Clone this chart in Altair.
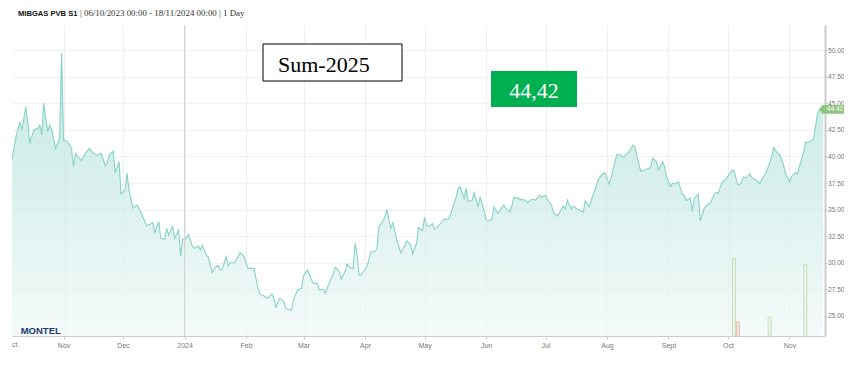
import altair as alt
import pandas as pd

# ---- data ----
dates = [
    "2023-10-06", "2023-10-08", "2023-10-10", "2023-10-11", "2023-10-13", "2023-10-14", "2023-10-15",
    "2023-10-17", "2023-10-19", "2023-10-20", "2023-10-21", "2023-10-22", "2023-10-24", "2023-10-25",
    "2023-10-26", "2023-10-28", "2023-10-30", "2023-10-31",
    "2023-11-01", "2023-11-03", "2023-11-05", "2023-11-06", "2023-11-07", "2023-11-09", "2023-11-10",
    "2023-11-12", "2023-11-14", "2023-11-16", "2023-11-18", "2023-11-20", "2023-11-22", "2023-11-23",
    "2023-11-24", "2023-11-26", "2023-11-27", "2023-11-29", "2023-11-30",
    "2023-12-02", "2023-12-03", "2023-12-04", "2023-12-06", "2023-12-08", "2023-12-09", "2023-12-12",
    "2023-12-13", "2023-12-16", "2023-12-17", "2023-12-19", "2023-12-20", "2023-12-22", "2023-12-23",
    "2023-12-24", "2023-12-26", "2023-12-27", "2023-12-29", "2023-12-30", "2023-12-31",
    "2024-01-02", "2024-01-03", "2024-01-05", "2024-01-06", "2024-01-08", "2024-01-09", "2024-01-10",
    "2024-01-12", "2024-01-13", "2024-01-15", "2024-01-16", "2024-01-18", "2024-01-19", "2024-01-20",
    "2024-01-22", "2024-01-23", "2024-01-24", "2024-01-26", "2024-01-28", "2024-01-29", "2024-01-31",
    "2024-02-02", "2024-02-05", "2024-02-07", "2024-02-08", "2024-02-10", "2024-02-12", "2024-02-14",
    "2024-02-15", "2024-02-16", "2024-02-18", "2024-02-20", "2024-02-21", "2024-02-22", "2024-02-24",
    "2024-02-25", "2024-02-27", "2024-02-29",
    "2024-03-01", "2024-03-03", "2024-03-05", "2024-03-06", "2024-03-08", "2024-03-09", "2024-03-11",
    "2024-03-12", "2024-03-14", "2024-03-16", "2024-03-17", "2024-03-19", "2024-03-20", "2024-03-22",
    "2024-03-23", "2024-03-25", "2024-03-26", "2024-03-27", "2024-03-28", "2024-03-29", "2024-03-30",
    "2024-04-02", "2024-04-04", "2024-04-06", "2024-04-07", "2024-04-08", "2024-04-10", "2024-04-11",
    "2024-04-12", "2024-04-14", "2024-04-15", "2024-04-17", "2024-04-19", "2024-04-21", "2024-04-22",
    "2024-04-24", "2024-04-25", "2024-04-27", "2024-04-28", "2024-04-30",
    "2024-05-01", "2024-05-02", "2024-05-04", "2024-05-05", "2024-05-06", "2024-05-08", "2024-05-11",
    "2024-05-13", "2024-05-14", "2024-05-17", "2024-05-18", "2024-05-19", "2024-05-21", "2024-05-22",
    "2024-05-23", "2024-05-25", "2024-05-26", "2024-05-28", "2024-05-29", "2024-05-31",
    "2024-06-01", "2024-06-02", "2024-06-04", "2024-06-05", "2024-06-07", "2024-06-09", "2024-06-10",
    "2024-06-11", "2024-06-13", "2024-06-14", "2024-06-15", "2024-06-17", "2024-06-19", "2024-06-20",
    "2024-06-22", "2024-06-24", "2024-06-26", "2024-06-28", "2024-06-29",
    "2024-07-01", "2024-07-02", "2024-07-04", "2024-07-05", "2024-07-07", "2024-07-08", "2024-07-10",
    "2024-07-11", "2024-07-12", "2024-07-14", "2024-07-15", "2024-07-17", "2024-07-18", "2024-07-20",
    "2024-07-21", "2024-07-23", "2024-07-25", "2024-07-27", "2024-07-28", "2024-07-30", "2024-07-31",
    "2024-08-02", "2024-08-03", "2024-08-05", "2024-08-06", "2024-08-08", "2024-08-09", "2024-08-11",
    "2024-08-13", "2024-08-14", "2024-08-15", "2024-08-17", "2024-08-18", "2024-08-20", "2024-08-22",
    "2024-08-23", "2024-08-24", "2024-08-26", "2024-08-27", "2024-08-29", "2024-08-30", "2024-08-31",
    "2024-09-02", "2024-09-03", "2024-09-04", "2024-09-06", "2024-09-08", "2024-09-09", "2024-09-10",
    "2024-09-12", "2024-09-13", "2024-09-14", "2024-09-16", "2024-09-17", "2024-09-19", "2024-09-21",
    "2024-09-22", "2024-09-24", "2024-09-25", "2024-09-26", "2024-09-28", "2024-09-29",
    "2024-10-01", "2024-10-03", "2024-10-04", "2024-10-06", "2024-10-07", "2024-10-09", "2024-10-10",
    "2024-10-12", "2024-10-13", "2024-10-15", "2024-10-17", "2024-10-20", "2024-10-22", "2024-10-23",
    "2024-10-24", "2024-10-26", "2024-10-27", "2024-10-29", "2024-10-30",
    "2024-11-01", "2024-11-02", "2024-11-04", "2024-11-05", "2024-11-06", "2024-11-08", "2024-11-09",
    "2024-11-11", "2024-11-13", "2024-11-14", "2024-11-15", "2024-11-16", "2024-11-18",
]
prices = [
    39.66, 41.85, 43.26, 42.48, 44.67, 43.11, 41.23,
    42.48, 42.64, 42.95, 42.01, 44.99, 42.32, 42.95,
    42.48, 40.76, 41.70, 49.69,
    41.54, 41.38, 40.76, 39.03, 40.29, 39.82, 39.60,
    40.29, 40.76, 40.29, 40.13, 40.29, 39.10, 39.35,
    40.13, 40.51, 38.47, 39.50, 36.47,
    36.84, 38.41, 36.84, 35.12, 35.43, 35.12, 33.86,
    33.46, 33.77, 32.83, 33.86, 32.30, 32.21, 33.24,
    32.61, 33.39, 32.30, 33.05, 30.64, 32.21,
    32.30, 32.68, 31.51, 31.36, 31.58, 31.20, 31.64,
    30.73, 30.52, 29.07, 29.48, 29.73, 29.32, 29.39,
    30.58, 29.70, 30.01, 30.01, 30.58, 30.95, 30.58,
    29.48, 29.48, 27.60, 27.07, 26.88, 26.66, 27.07,
    26.66, 25.81, 26.66, 26.35, 25.72, 25.63, 25.56,
    26.57, 27.44, 27.60,
    28.76, 29.32, 28.38, 28.07, 28.07, 27.44, 27.51,
    27.13, 28.13, 28.95, 29.58, 29.16, 28.45, 29.20,
    29.90, 29.48, 29.48, 31.83, 30.73, 28.85, 28.85,
    29.64, 31.04, 31.04, 31.36, 33.39, 33.93, 34.33,
    35.03, 33.24, 33.77, 32.14, 30.95, 31.58, 32.08,
    31.67, 30.83, 31.83, 33.33, 33.02,
    34.24, 33.46, 33.46, 33.71, 33.14, 33.46, 34.12,
    34.09, 34.49, 36.21, 37.00, 37.15, 36.06, 37.00,
    35.74, 35.90, 36.59, 35.27, 36.15, 34.96,
    34.02, 33.96, 34.09, 35.27, 34.65, 35.18, 35.43,
    35.12, 34.80, 35.34, 36.15, 36.10, 35.90, 35.97,
    35.65, 35.97, 35.90, 36.37, 36.15,
    36.37, 35.90, 35.43, 34.71, 34.40, 34.71, 35.34,
    35.03, 35.90, 35.03, 35.34, 35.03, 34.96, 34.71,
    35.81, 35.27, 36.37, 37.47, 37.94, 38.41, 38.47,
    37.41, 37.94, 39.50, 40.20, 40.13, 39.92, 40.23,
    40.67, 41.07, 40.91, 39.35, 38.63, 38.72, 38.88,
    38.97, 39.82, 39.50, 38.72, 39.50, 39.03, 38.09,
    37.15, 37.47, 37.41, 37.62, 36.45, 36.30, 35.85,
    36.10, 34.80, 36.06, 36.44, 33.93, 35.12, 35.50,
    35.59, 36.37, 36.62, 36.53, 37.56, 37.69,
    38.16, 38.72, 38.66, 37.31, 37.38, 38.09, 37.94,
    38.35, 38.00, 37.78, 37.47, 38.41, 39.35, 39.97,
    40.82, 40.29, 40.20, 39.19, 38.41,
    37.62, 38.09, 38.51, 38.32, 39.03, 40.29, 41.29,
    41.38, 41.60, 42.64, 43.89, 44.36, 44.42,
]

vol_dates = ["2024-10-04", "2024-10-06", "2024-10-22", "2024-11-09"]
vol_values = [25.0, 4.5, 6.0, 23.0]
vol_side = ["buy", "sell", "buy", "buy"]

y_ticks = [25.0, 27.5, 30.0, 32.5, 35.0, 37.5, 40.0, 42.5, 45.0, 47.5, 50.0]
y_domain = [23.12, 52.35]
year_start = ["2024-01-01"]
last_price = 44.42

title_bold = "MIBGAS PVB S1"
title_rest = "| 06/10/2023 00:00 - 18/11/2024 00:00 | 1 Day"
contract = "Sum-2025"
contract_price = "44,42"
logo = "MONTEL"

W, H = 813, 311

df = pd.DataFrame({"date": dates, "price": prices})
vol = pd.DataFrame({"date": vol_dates, "volume": vol_values, "side": vol_side})

x_scale = alt.Scale(
    type="utc",
    domain=[alt.DateTime(year=2023, month=10, date=6, utc=True),
            alt.DateTime(year=2024, month=11, date=18, hours=22, utc=True)],
    nice=False,
    padding=0,
)
label_expr = ("utcmonth(datum.value)==0 ? utcFormat(datum.value,'%Y') : "
              "(utcmonth(datum.value)==8 ? 'Sept' : utcFormat(datum.value,'%b'))")
x_enc = alt.X(
    "date:T", scale=x_scale,
    axis=alt.Axis(tickCount="month", labelExpr=label_expr, title=None, grid=True,
                  gridColor="#eeeeee", domainColor="#cccccc", tickColor="#cccccc",
                  tickSize=3, labelFontSize=7, labelColor="#777777", labelPadding=2,
                  labelFlush=False, labelOverlap=False, labelFont="Liberation Sans"),
)
y_scale = alt.Scale(domain=y_domain, nice=False, zero=False)
y_enc = alt.Y(
    "price:Q", scale=y_scale,
    axis=alt.Axis(orient="right", values=y_ticks, format=".2f", title=None,
                  gridColor="#f1f1f1", domainColor="#cccccc", domainWidth=2,
                  tickColor="#bbbbbb", tickSize=2, labelPadding=0.5, labelFontSize=6.6,
                  labelColor="#777777", labelFont="Liberation Sans"),
)

gradient = alt.Gradient(
    gradient="linear",
    stops=[alt.GradientStop(color="#ade0d8", offset=0),
           alt.GradientStop(color="#cbebe6", offset=0.5),
           alt.GradientStop(color="#f0f9f8", offset=1)],
    x1=1, x2=1, y1=0, y2=1,
)

area = alt.Chart(df).mark_area(
    color=gradient, clip=True,
    line={"color": "#86d2c8", "strokeWidth": 1.1},
).encode(x=x_enc, y=y_enc, y2=alt.datum(y_domain[0]))

rule = alt.Chart(pd.DataFrame({"date": year_start})).mark_rule(
    color="#d2d2d2", strokeWidth=1
).encode(x=x_enc)

tag_df = pd.DataFrame({"price": [last_price], "label": [f"{last_price:.2f}"]})
tag = alt.Chart(tag_df).mark_point(
    shape="M-1,0L-0.72,-0.34H1V0.34H-0.72Z", filled=True, color="#8fc47f",
    size=676, opacity=1,
).encode(x=alt.value(820), y=y_enc)
tag_text = alt.Chart(tag_df).mark_text(
    color="white", fontSize=6.5, align="center", baseline="middle", font="Liberation Sans",
).encode(x=alt.value(823), y=y_enc, text="label:N")

price_group = alt.layer(area, rule, tag, tag_text)

bars = alt.Chart(vol).mark_bar(size=3, strokeWidth=1).encode(
    x=x_enc,
    y=alt.Y("volume:Q", scale=alt.Scale(domain=[0, 100]), axis=None),
    color=alt.Color("side:N", scale=alt.Scale(domain=["buy", "sell"], range=["#eef6ec", "#f7e4df"]), legend=None),
    stroke=alt.Stroke("side:N", scale=alt.Scale(domain=["buy", "sell"], range=["#c4dcbd", "#e6bdb3"]), legend=None),
)

one = pd.DataFrame({"k": [0]})


def txt(s, x, y, baseline="alphabetic", **kw):
    return alt.Chart(pd.DataFrame({"t": [s]})).mark_text(baseline=baseline, **kw).encode(
        text="t:N", x=alt.value(x), y=alt.value(y))


box1 = alt.Chart(one).mark_rect(fill="white", stroke="black", strokeWidth=1).encode(
    x=alt.value(251), x2=alt.value(390), y=alt.value(19), y2=alt.value(56))
box1_t = txt(contract, 266, 46.5, font="Liberation Serif", fontSize=22, color="black", align="left")
box2 = alt.Chart(one).mark_rect(fill="#00b050").encode(
    x=alt.value(479), x2=alt.value(565), y=alt.value(46), y2=alt.value(82))
box2_t = txt(contract_price, 522, 73.3, font="Liberation Serif", fontSize=22, color="white", align="center")

t1 = txt(title_bold, 6, -9, font="Liberation Sans", fontSize=7.6, fontWeight="bold", color="#111111", align="left")
t2 = txt(title_rest, 68, -9, font="Liberation Serif", fontSize=8.9, color="#333333", align="left")
logo_t = txt(logo, 8.7, 309, font="Liberation Sans", fontSize=9.5, fontWeight="bold", color="#1d3b6e", align="left")
oct_t = txt("ct", 0, H + 5, baseline="top", font="Liberation Sans", fontSize=7, color="#777777", align="left")

annot = alt.layer(box1, box1_t, box2, box2_t, t1, t2, logo_t, oct_t)

chart = alt.layer(price_group, bars, annot).resolve_scale(y="independent").properties(
    width=W, height=H,
    autosize=alt.AutoSizeParams(type="none"),
    padding={"left": 4, "top": 17, "right": 19, "bottom": 20},
    background="white",
).configure_view(stroke=None)

chart.save("out.html", embed_options={"renderer": "svg", "actions": False})
